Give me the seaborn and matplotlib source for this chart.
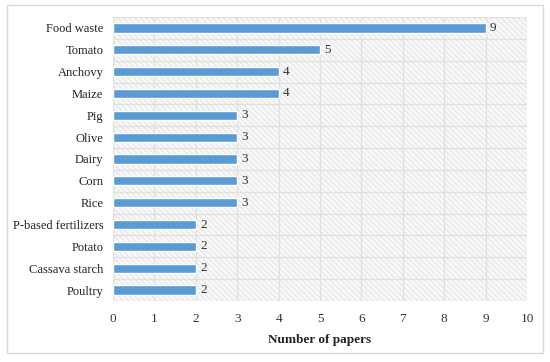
import pandas as pd
import matplotlib
matplotlib.use("Agg")
import matplotlib.pyplot as plt
from matplotlib.patches import Rectangle
import seaborn as sns

# Dados
categories = ['Food waste', 'Tomato', 'Anchovy', 'Maize', 'Pig', 'Olive', 'Dairy',
              'Corn', 'Rice', 'P-based fertilizers', 'Potato', 'Cassava starch', 'Poultry']
papers = [9, 5, 4, 4, 3, 3, 3, 3, 3, 2, 2, 2, 2]
x_ticks = list(range(0, 11))

df = pd.DataFrame({'Category': categories, 'Papers': papers})

sns.set_style('white')
plt.rcParams['font.family'] = ['Liberation Serif', 'DejaVu Serif']
plt.rcParams['hatch.color'] = '#e0e0e0'
plt.rcParams['hatch.linewidth'] = 0.6

fig = plt.figure(figsize=(5.5, 3.62), dpi=100)
ax = fig.add_axes([113 / 550, 1 - 301 / 362, (527 - 113) / 550, (301 - 17) / 362])

# fundo hachurado
ax.add_patch(Rectangle((0, 0), 1, 1, transform=ax.transAxes, facecolor='#f8f8f8',
                       edgecolor='#e0e0e0', hatch='\\\\\\\\\\\\', lw=0, zorder=0))

sns.barplot(data=df, y='Category', x='Papers', color='#5b9bd5', width=0.42,
            saturation=1, ax=ax, zorder=3)

ax.set_xlim(0, 10)
ax.set_ylim(len(categories) - 0.5, -0.5)
ax.set_xticks(x_ticks)
ax.set_xticklabels([str(t) for t in x_ticks], fontsize=9.5, color='#333333')
ax.set_yticks(range(len(categories)))
ax.set_yticklabels(categories, fontsize=9, color='#222222')

ax.grid(False)
for t in x_ticks:
    ax.axvline(t, color='#e0e0e0', lw=0.9, zorder=1)
for i in range(-1, len(categories)):
    ax.axhline(i + 0.5, color='#e0e0e0', lw=0.9, zorder=1)

for s in ax.spines.values():
    s.set_visible(False)
ax.tick_params(axis='y', length=0, pad=7)
ax.tick_params(axis='x', length=0, pad=9)

for i, v in enumerate(papers):
    ax.text(v + 0.1, i, str(v), va='center', ha='left', fontsize=9.5, color='#333333', zorder=4)

ax.set_xlabel('Number of papers', fontsize=9.5, fontweight='bold', color='#222222', labelpad=6)
ax.set_ylabel('')

# moldura externa
fig.patches.append(Rectangle((7 / 550, 1 - 353 / 362), (543 - 7) / 550, (353 - 5) / 362,
                             transform=fig.transFigure, fill=False, edgecolor='#d9d9d9', lw=1))

fig.savefig('out.png', dpi=100)
